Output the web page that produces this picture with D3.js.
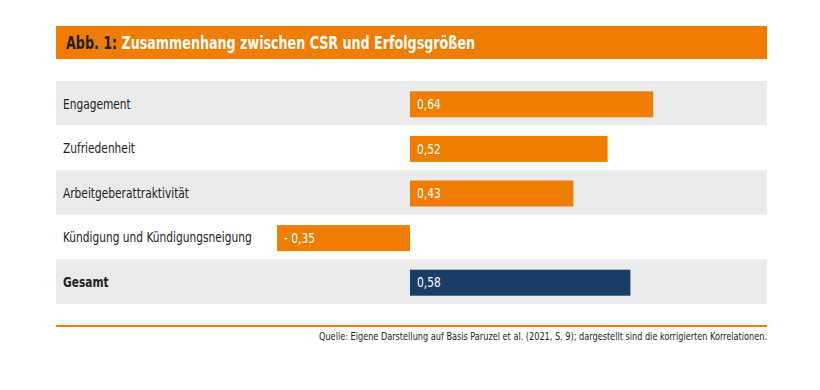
<!DOCTYPE html>
<html><head><meta charset="utf-8">
<script src="https://cdn.jsdelivr.net/npm/d3@7"></script>
<style>
body{margin:0;background:#fff;}
svg{display:block;font-family:"DejaVu Sans Condensed","Liberation Sans Narrow","Open Sans",sans-serif;}
</style></head><body>
<svg id="c" width="820" height="390"></svg>
<script>
const categories = ["Engagement","Zufriedenheit","Arbeitgeberattraktivität","Kündigung und Kündigungsneigung","Gesamt"];
const values = [0.64, 0.52, 0.43, -0.35, 0.58];
const valueLabels = ["0,64","0,52","0,43","- 0,35","0,58"];
const titlePrefix = "Abb. 1:";
const titleText = " Zusammenhang zwischen CSR und Erfolgsgrößen";
const sourceText = "Quelle: Eigene Darstellung auf Basis Paruzel et al. (2021, S. 9); dargestellt sind die korrigierten Korrelationen.";

const orange = "#EE7D00", navy = "#1A3D68", gray = "#EBEBEB";
const svg = d3.select("#c");
const left = 56, right = 767;

// title banner
svg.append("rect").attr("x", left).attr("y", 26).attr("width", right-left).attr("height", 33).attr("fill", orange);
const tsx = 0.83;
const t = svg.append("g").attr("transform", `scale(${tsx},1)`)
  .append("text").attr("x", 66/tsx).attr("y", 49.5).attr("font-size", 17).attr("font-weight", "bold");
t.append("tspan").attr("fill", "#1e1e1e").text(titlePrefix);
t.append("tspan").attr("fill", "#fff").text(titleText);

// scales
const y = d3.scaleBand().domain(categories).range([81, 304]).padding(0);
const x = d3.scaleLinear().domain([0, 1]).range([410, 790]);

// row backgrounds
svg.selectAll("rect.row").data(categories).join("rect")
  .attr("class","row")
  .attr("x", left).attr("width", right-left)
  .attr("y", d => y(d)).attr("height", y.bandwidth())
  .attr("fill", (d,i) => i%2===0 ? gray : "#fff");

// category labels
const lsx = 0.815;
svg.append("g").attr("transform", `scale(${lsx},1)`)
  .selectAll("text.cat").data(categories).join("text")
  .attr("class","cat")
  .attr("x", 63/lsx).attr("y", d => y(d) + y.bandwidth()/2 + 1)
  .attr("dominant-baseline","middle")
  .attr("font-size", 14.5)
  .attr("font-weight", (d,i) => i === categories.length-1 ? "bold" : "normal")
  .attr("fill", "#222")
  .text(d => d);

// bars
const bh = 26;
svg.selectAll("rect.bar").data(values).join("rect")
  .attr("class","bar")
  .attr("x", d => x(Math.min(0,d)))
  .attr("width", d => Math.abs(x(d)-x(0)))
  .attr("y", (d,i) => y(categories[i]) + y.bandwidth()/2 - bh/2 + 1)
  .attr("height", bh)
  .attr("fill", (d,i) => i === categories.length-1 ? navy : orange);

// value labels
const vsx = 0.88;
svg.append("g").attr("transform", `scale(${vsx},1)`)
  .selectAll("text.val").data(values).join("text")
  .attr("class","val")
  .attr("x", d => (x(Math.min(0,d)) + 7)/vsx)
  .attr("y", (d,i) => y(categories[i]) + y.bandwidth()/2 + 2)
  .attr("dominant-baseline","middle")
  .attr("font-size", 13.5)
  .attr("fill", "#fff")
  .text((d,i) => valueLabels[i]);

// footer line
svg.append("line").attr("x1", left).attr("x2", right).attr("y1", 326).attr("y2", 326)
  .attr("stroke", orange).attr("stroke-width", 2);
const ssx = 0.85;
svg.append("g").attr("transform", `scale(${ssx},1)`)
  .append("text").attr("x", right/ssx).attr("y", 340).attr("text-anchor","end")
  .attr("font-size", 10.7).attr("fill", "#222").text(sourceText);
</script>
</body></html>
